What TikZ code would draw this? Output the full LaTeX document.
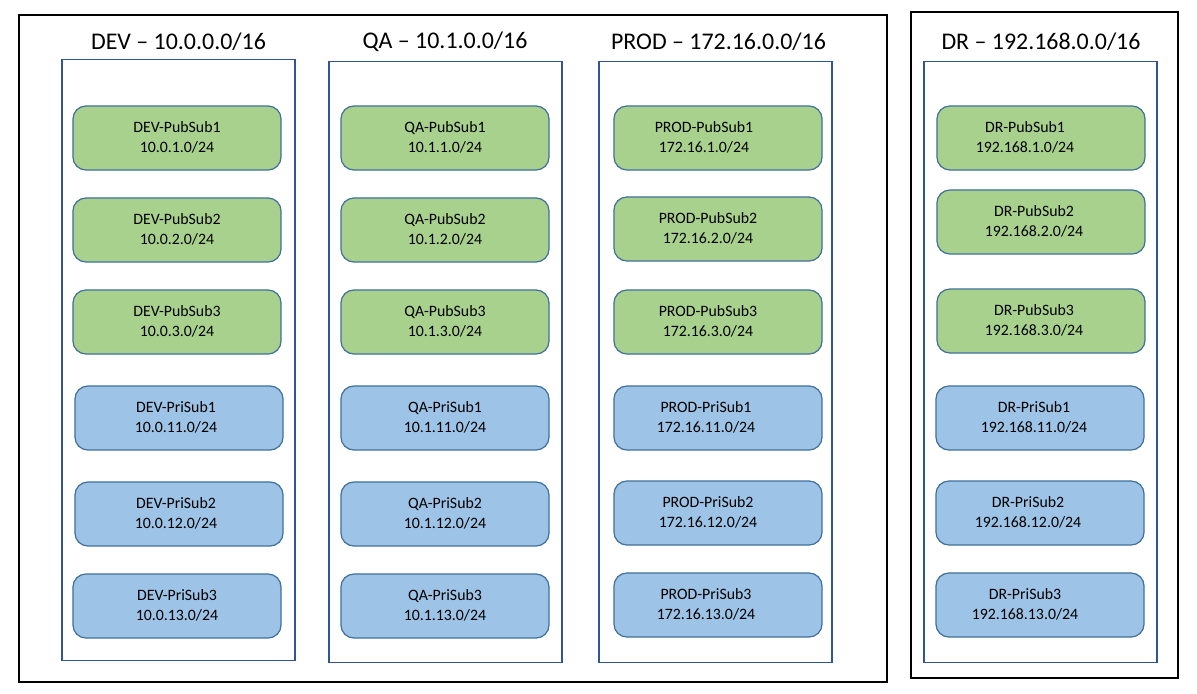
\documentclass[tikz,border=0pt]{standalone}
\usepackage{fontspec}
\setmainfont{Carlito}
\usetikzlibrary{positioning}
\definecolor{pubgreen}{HTML}{A9D18E}
\definecolor{priblue}{HTML}{9DC3E6}
\definecolor{subedge}{HTML}{41719C}
\definecolor{vpcedge}{HTML}{2F5597}
\tikzset{
  vpcbox/.style={draw=vpcedge, line width=0.35pt, minimum width=2.33cm, minimum height=6cm},
  subbox/.style={draw=subedge, line width=0.35pt, rounded corners=0.13cm, minimum width=2.08cm, minimum height=0.64cm},
  pub/.style={subbox, fill=pubgreen},
  pri/.style={subbox, fill=priblue},
  subtxt/.style={align=center, inner sep=0pt, font=\fontsize{4.5}{5.7}\selectfont},
  vpctitle/.style={inner sep=0pt, font=\fontsize{6.8}{8}\selectfont}
}
\begin{document}
\begin{tikzpicture}[x=0.01cm, y=-0.01cm]
\useasboundingbox (0,0) rectangle (1197,694);
% account boundaries
\draw[line width=0.4pt] (19,15) rectangle (887,682);
\draw[line width=0.4pt] (911,12) rectangle (1178,678);
% one box per VPC
\node[vpcbox] (dev) at (178.5,360) {};
\node[vpcbox] (qa) at (445.5,362) {};
\node[vpcbox] (prod) at (715.5,362) {};
\node[vpcbox] (dr) at (1040.5,362) {};
\node[vpctitle] (devtitle) at (178.5,42) {DEV – 10.0.0.0/16};
\node[vpctitle] (qatitle) at (445,42) {QA – 10.1.0.0/16};
\node[vpctitle] (prodtitle) at (718.5,42) {PROD – 172.16.0.0/16};
\node[vpctitle] (drtitle) at (1041,42) {DR – 192.168.0.0/16};
% subnets
\foreach \nm/\kind/\x/\y/\dx/\ip in {
    DEV-PubSub1/pub/177/138/0/10.0.1.0, DEV-PubSub2/pub/177/230/0/10.0.2.0, DEV-PubSub3/pub/177/322/0/10.0.3.0,
    DEV-PriSub1/pri/179/418/-3/10.0.11.0, DEV-PriSub2/pri/179/514/-3/10.0.12.0, DEV-PriSub3/pri/177/606/0/10.0.13.0,
    QA-PubSub1/pub/445/138/0/10.1.1.0, QA-PubSub2/pub/445/230/0/10.1.2.0, QA-PubSub3/pub/445/322/0/10.1.3.0,
    QA-PriSub1/pri/445/418/0/10.1.11.0, QA-PriSub2/pri/445/514/0/10.1.12.0, QA-PriSub3/pri/445/606/0/10.1.13.0,
    PROD-PubSub1/pub/718/138/-14/172.16.1.0, PROD-PubSub2/pub/718/229/-10/172.16.2.0, PROD-PubSub3/pub/718/322/-10/172.16.3.0,
    PROD-PriSub1/pri/718/418/-12/172.16.11.0, PROD-PriSub2/pri/718/513/-10/172.16.12.0, PROD-PriSub3/pri/718/605/-12/172.16.13.0,
    DR-PubSub1/pub/1041/138/-16/192.168.1.0, DR-PubSub2/pub/1041/222/-7/192.168.2.0, DR-PubSub3/pub/1041/321/-7/192.168.3.0,
    DR-PriSub1/pri/1040/418/-6/192.168.11.0, DR-PriSub2/pri/1040/513/-12/192.168.12.0, DR-PriSub3/pri/1040/605/-15/192.168.13.0}{
  \node[\kind] (\nm) at (\x,\y) {};
  \node[subtxt] at (\x+\dx,\y-1) {\nm\\\ip/24};
}
\end{tikzpicture}
\end{document}
